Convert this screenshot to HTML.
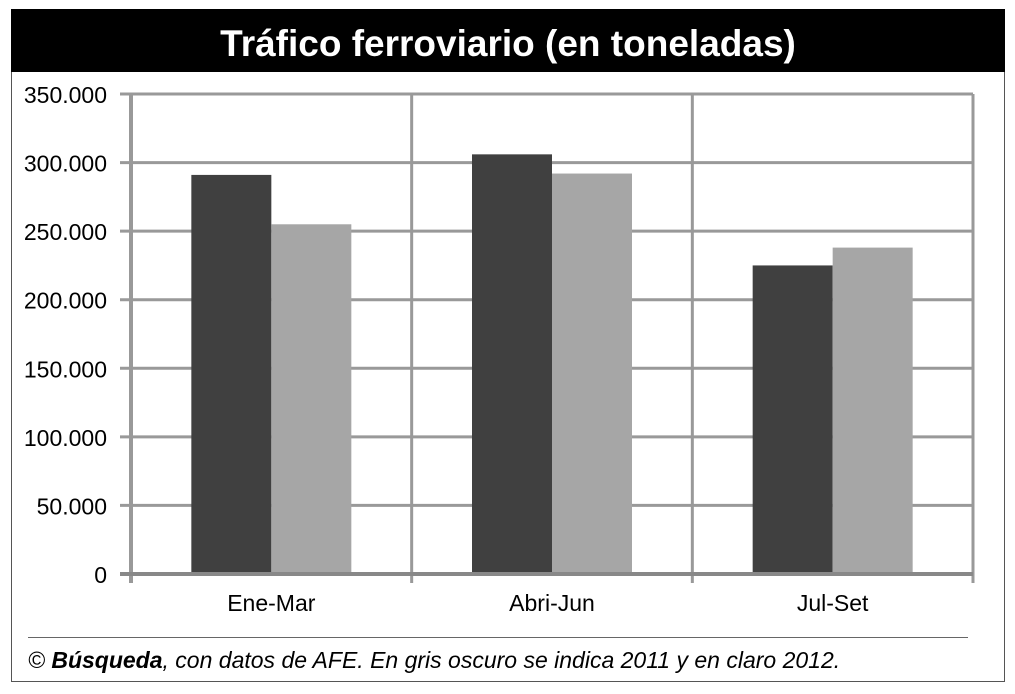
<!DOCTYPE html>
<html><head><meta charset="utf-8"><style>
body{margin:0;background:#fff;}
svg{display:block;font-family:"Liberation Sans",sans-serif;}
</style></head><body>
<svg id="chart" width="1015" height="694" viewBox="0 0 1015 694">
<rect x="11.5" y="9.5" width="993" height="672" fill="#fff" stroke="#555" stroke-width="1"/>
<rect x="11" y="9" width="994" height="63" fill="#000"/>
<text x="508" y="56" text-anchor="middle" fill="#fff" font-size="37" font-weight="bold">Tráfico ferroviario (en toneladas)</text>
<g id="grid"></g><g id="bars"></g><g id="axes"></g>
<line x1="28" y1="637.5" x2="968" y2="637.5" stroke="#666" stroke-width="1"/>
<text x="28" y="668" font-size="23" font-style="italic" fill="#000">© <tspan font-weight="bold">Búsqueda</tspan>, con datos de AFE. En gris oscuro se indica 2011 y en claro 2012.</text>
</svg>
<script>
const categories=["Ene-Mar","Abri-Jun","Jul-Set"];
const series2011=[291000,306000,225000];
const series2012=[255000,292000,238000];
const yTicks=[0,50000,100000,150000,200000,250000,300000,350000];
const yTickLabels=["0","50.000","100.000","150.000","200.000","250.000","300.000","350.000"];
const NS="http://www.w3.org/2000/svg";
const X0=131,X1=973,Y0=574,Y1=94,YMAX=350000;
const y=v=>Y0-(v/YMAX)*(Y0-Y1);
const bw=(X1-X0)/categories.length;
const x=i=>X0+bw*i;
function mk(p,t,a){const e=document.createElementNS(NS,t);for(const k in a)e.setAttribute(k,a[k]);document.getElementById(p).appendChild(e);return e;}
yTicks.forEach((v,i)=>{
 const l=mk("grid","line",{x1:120,x2:X1,y1:y(v),y2:y(v),stroke:"#999","stroke-width":3});
 
 
 const t=mk("axes","text",{x:107,y:y(v)+9,"text-anchor":"end","font-size":23});
 
 
 t.textContent=yTickLabels[i];
});
for(let i=0;i<=categories.length;i++){
 const l=mk("grid","line",{x1:x(i),x2:x(i),y1:Y1,y2:Y0+9,stroke:"#999","stroke-width":i==0?4:3});
 
 
}
categories.forEach((c,i)=>{
 const cx=x(i)+bw/2;
 const b1=mk("bars","rect",{x:cx-80,y:y(series2011[i]),width:80,height:Y0-y(series2011[i]),fill:"#404040"});
 
 
 const b2=mk("bars","rect",{x:cx,y:y(series2012[i]),width:80,height:Y0-y(series2012[i]),fill:"#a6a6a6"});
 
 
 const t=mk("axes","text",{x:cx,y:611,"text-anchor":"middle","font-size":23});
 
 
 t.textContent=c;
});
const ax=mk("axes","line",{x1:120,x2:X1,y1:Y0,y2:Y0,stroke:"#888","stroke-width":4});


</script>
</body></html>
